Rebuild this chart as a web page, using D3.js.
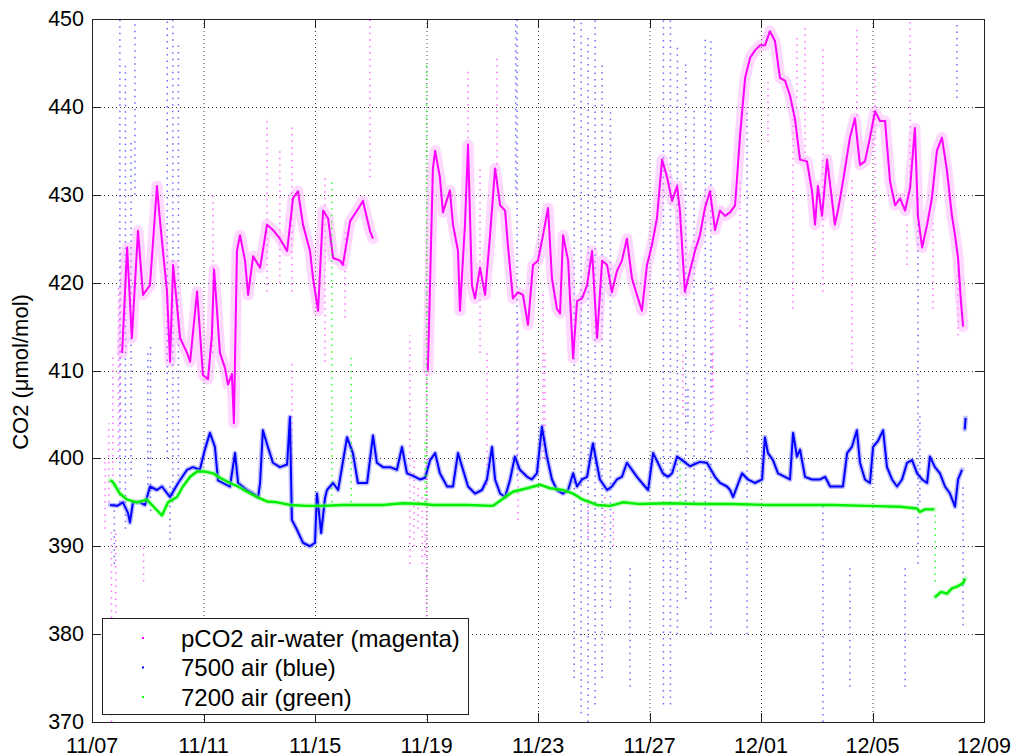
<!DOCTYPE html>
<html>
<head>
<meta charset="utf-8">
<script src="https://cdn.jsdelivr.net/npm/d3@7"></script>
<style>
  html, body { margin: 0; padding: 0; background: #fff; }
  svg { display: block; font-family: "Liberation Sans", Arial, Helvetica, sans-serif; }
</style>
</head>
<body>
<svg id="chart" width="1017" height="756"></svg>
<script>
// Time axis: days elapsed since 11/07 00:00
const xTickDays   = [0, 4, 8, 12, 16, 20, 24, 28, 32];
const xTickLabels = ["11/07", "11/11", "11/15", "11/19", "11/23", "11/27", "12/01", "12/05", "12/09"];
const yTicks      = [370, 380, 390, 400, 410, 420, 430, 440, 450];

// pCO2 air-water trace [day, ppm]; null marks a data gap
const magentaTrace = [
  [1.08,412],[1.26,424],[1.43,413.7],[1.65,425.9],[1.83,418.6],
  [2.08,419.7],[2.33,431],[2.44,427],[2.69,419],[2.80,411],[2.91,422],[3.16,413.7],[3.41,412],
  [3.52,411],[3.77,419],[3.98,409.5],[4.16,409],[4.30,414],[4.38,421.5],[4.59,412],[4.77,410.3],
  [4.88,408.4],[5.02,409.6],[5.09,404],[5.20,423.6],[5.31,425.4],[5.49,422.5],[5.60,418.6],[5.78,423],
  [6.03,421.7],[6.28,426.6],[6.49,426],[6.74,425],[7.00,423.6],[7.21,429.6],[7.39,430.4],[7.57,426.6],
  [7.82,423.6],[7.93,420.5],[8.11,416.8],[8.29,428.2],[8.47,427.3],[8.65,422.8],[8.90,422.5],[9.00,422],
  [9.26,427],[9.51,428.2],[9.72,429.3],[9.97,425.9],[10.08,425],
  [10.5,null],
  [12.05,410],[12.23,433],[12.31,435],[12.48,432],[12.59,428],
  [12.84,430.5],[12.95,426.6],[13.13,423.6],[13.20,416.8],[13.38,426.6],[13.49,435.7],[13.63,419.7],[13.74,418.2],
  [13.92,421.7],[14.10,418.6],[14.28,425.4],[14.46,433],[14.64,428.8],[14.82,428.2],[14.92,424.3],[15.10,418.2],
  [15.28,418.9],[15.46,418.6],[15.64,415.2],[15.82,422],[16.00,422.5],[16.18,425.4],[16.36,428.5],[16.50,420.5],
  [16.68,417],[16.79,416.5],[16.90,425.4],[17.08,422.5],[17.26,411.4],[17.40,417.9],[17.58,418.2],[17.76,419.7],
  [17.94,423.6],[18.12,413.7],[18.30,422.5],[18.48,422],[18.65,418.9],[18.83,421.3],[19.01,422.5],[19.19,425],
  [19.37,420.5],[19.55,418.6],[19.73,416.8],[19.91,422],[20.09,424.3],[20.27,427.4],[20.45,434],[20.63,432],
  [20.81,429.3],[20.99,431],[21.09,428.2],[21.27,419],[21.45,421.3],[21.63,423.6],[21.81,425.4],[21.99,428.5],
  [22.17,430.4],[22.35,426],[22.53,428.2],[22.71,427.6],[22.89,428],[23.07,428.8],[23.25,436.8],[23.43,443.3],
  [23.61,445.6],[23.78,446.4],[23.96,447],[24.14,447],[24.32,448.6],[24.50,447.5],[24.68,443.3],[24.86,443],
  [25.04,441.3],[25.22,438.6],[25.40,434],[25.65,433.8],[25.83,430.4],[25.94,426.6],[26.04,431],[26.19,427.6],
  [26.37,434],[26.55,429.3],[26.65,426.6],[26.76,428.2],[26.94,431.5],[27.19,436.5],[27.37,438.7],[27.55,433.4],
  [27.73,433.8],[27.91,436.5],[28.09,439.5],[28.27,438.4],[28.45,438.4],[28.63,431.5],[28.81,428.8],[28.99,429.6],
  [29.17,428.2],[29.35,430.8],[29.52,437.6],[29.63,427.6],[29.78,424],[29.96,426.6],[30.13,429.6],[30.31,435],
  [30.49,436.5],[30.67,432.8],[30.85,427.6],[30.96,425.4],[31.07,422.8],[31.17,418],[31.25,415]
];

// 7500 open-path analyser, air [day, ppm]
const blueTrace = [
  [0.65,394.7],[0.90,394.6],[1.11,395],[1.29,393.8],[1.36,392.7],[1.47,395],[1.72,395],[1.90,394.7],
  [2.08,396.8],[2.33,396.4],[2.51,396.8],[2.80,395.6],[3.09,397.2],[3.41,398.7],[3.62,399],[3.87,398.7],
  [4.05,401],[4.23,402.9],[4.41,401.3],[4.52,397.5],[4.70,397.2],[4.95,396.8],[5.13,400.6],[5.24,397.2],
  [5.56,396.4],[5.78,396],[5.96,395.6],[6.03,397.2],[6.13,403.2],[6.31,401.3],[6.49,399.5],[6.74,399],
  [7.00,399.3],[7.10,404.7],[7.17,393],[7.35,391.9],[7.57,390.4],[7.82,390],[8.00,390.4],[8.07,396],
  [8.22,391.5],[8.36,395.5],[8.43,396.4],[8.65,397.2],[8.83,396.4],[9.15,402.4],[9.36,400.6],[9.54,397.2],
  [9.87,397.2],[10.08,402.6],[10.22,399.5],[10.44,399],[10.69,399],[10.94,398.7],[11.12,401.3],[11.30,398.3],
  [11.52,398],[11.77,397.6],[11.95,397.8],[12.13,399.8],[12.31,400.6],[12.48,398.3],[12.74,396.8],[12.95,396.8],
  [13.13,400.6],[13.31,398.7],[13.49,396.8],[13.74,396],[13.99,396.4],[14.17,397.6],[14.35,401.3],[14.46,397.6],
  [14.64,396],[14.82,395.6],[15.00,397.6],[15.17,400.2],[15.35,398.7],[15.61,397.9],[15.78,397.6],[15.96,398.3],
  [16.14,403.6],[16.32,400.2],[16.50,397.6],[16.68,396.4],[16.90,396],[17.08,396.4],[17.26,398.3],[17.40,396.8],
  [17.58,397.6],[17.76,397.9],[17.97,401.7],[18.22,397.6],[18.48,396.4],[18.65,396.8],[18.83,397.6],[19.01,397.9],
  [19.19,399.5],[19.37,398.7],[19.55,397.9],[19.73,397.2],[19.95,396.4],[20.13,400.6],[20.30,399.5],[20.48,398.3],
  [20.66,397.9],[20.81,398.3],[20.99,400.2],[21.17,399.8],[21.45,399.1],[21.81,399.6],[22.06,399.5],[22.35,397.9],
  [22.53,397.2],[22.78,396.8],[22.89,396.4],[23.00,395.6],[23.14,396.8],[23.32,398.3],[23.53,397.6],[23.78,397.2],
  [24.04,397.6],[24.14,402.4],[24.25,400.6],[24.43,399.8],[24.61,398.3],[24.86,397.9],[25.04,397.6],[25.15,402.9],
  [25.29,400.2],[25.40,401],[25.58,397.9],[25.83,397.6],[26.12,397.6],[26.30,397.9],[26.48,396.8],[26.73,396.8],
  [26.94,396.8],[27.09,400.6],[27.26,401.3],[27.44,403.2],[27.55,399.5],[27.73,397.6],[27.91,397.2],[28.02,401.3],
  [28.20,402],[28.38,403.2],[28.52,399],[28.70,397.6],[28.88,396.8],[29.06,397.6],[29.24,399.5],[29.42,399.8],
  [29.60,398.3],[29.78,397.6],[29.96,397.2],[30.06,400.2],[30.24,399],[30.42,398.3],[30.60,396.8],[30.78,396],
  [30.96,394.5],[31.07,397.6],[31.21,398.7],
  [31.27,null],
  [31.31,403.3],[31.34,404.6]
];

// 7200 closed-path analyser, air [day, ppm]
const greenTrace = [
  [0.65,397.5],[0.75,397.3],[1.00,396],[1.26,395.3],[1.61,395],[1.97,395.3],[2.33,394.1],[2.51,393.5],
  [2.73,395],[3.05,395.6],[3.26,396.8],[3.52,397.9],[3.77,398.5],[4.05,398.5],[4.34,398.3],[4.59,397.8],
  [4.95,397.2],[5.24,396.8],[5.56,396.2],[5.92,395.6],[6.28,395.1],[6.64,395],[7.10,394.7],[7.71,394.6],
  [8.29,394.6],[9.00,394.7],[9.72,394.7],[10.44,394.7],[11.16,394.9],[11.87,394.8],[12.23,394.7],[13.45,394.7],
  [14.39,394.6],[14.74,395.4],[15.10,396.2],[15.61,396.6],[16.07,397],[16.43,396.6],[16.90,396.4],[17.26,396],
  [17.61,395.3],[18.12,394.7],[18.58,394.6],[19.05,395],[19.66,394.8],[20.63,394.9],[21.81,394.8],[23.00,394.8],
  [24.18,394.7],[25.40,394.7],[26.58,394.7],[27.77,394.6],[28.99,394.5],[29.60,394.3],[29.70,393.9],[29.88,394.2],
  [30.21,394.2],
  [30.23,null],
  [30.24,384.2],[30.46,384.8],[30.67,384.6],[30.85,385.2],[31.03,385.4],[31.25,385.8],[31.32,386.3]
];

// Sparse outlier streaks [day, low ppm, high ppm]
const magentaSpikes = [
  [0.47,392,400],[0.60,395,404],[0.70,370,392],[0.75,398,412],[0.85,375,392],[0.95,400,420],[1.02,404,424],
  [1.85,386,390],[4.34,412,430],[6.28,419,439],[6.74,420,435],[7.17,419,438],
  [7.17,398,411],[8.36,411,432],[9.08,416,426],[9.97,432,450],[11.40,388,414],[11.55,390,400],[11.70,392,397],
  [11.85,388,396],[11.95,389,392],[12.00,382,410],[13.49,432,444],[13.92,412,433],[14.17,397,412],[14.53,432,446],
  [15.28,393,416],[16.18,400,419],
  [16.25,400,412],[17.80,391,395],[18.40,391,396],[18.70,390,394],[21.20,405,412],[22.25,408,412],[22.28,403,420],
  [23.25,415,432],[24.25,436,443],[25.15,417,439],[25.29,441,448],[25.58,434,449],[26.22,419,447],[27.26,410,432],
  [27.44,439,449],[28.09,423,445],[29.24,422,427],[29.35,431,450],[30.17,417,427],[31.07,414,423]
];
const blueSpikes = [
  [0.80,388,395],[1.00,395,450],[1.20,392,445],[1.40,398,436],[1.54,430,450],[2.00,397,412],[2.10,394,413],
  [2.70,400,450],[2.90,395,450],[3.10,398,447],[2.80,390,397],[15.20,430,450],[15.25,398,450],
  [17.30,375,450],[17.55,371,450],[17.80,370,448],[18.05,372,450],[18.30,375,445],[18.60,383,440],[19.30,374,388],
  [20.50,372,450],[20.75,372,450],[21.00,380,447],[21.30,384,445],[21.38,404,408],[21.60,395,440],[22.00,392,448],
  [22.20,380,448],[23.50,380,440],[26.22,370,395],[27.19,374,388],[29.17,374,388],[29.63,388,430],[29.70,395,405],
  [31.03,441,450],[31.25,381,397]
];
const greenSpikes = [
  [8.60,395,432],[9.30,395,412],[11.95,395,402],[12.00,395,445],[21.10,395,400],[30.25,386,394]
];

const legendLabels = ["pCO2 air-water (magenta)", "7500 air (blue)", "7200 air (green)"];
const seriesColors = ["#ff00ff", "#0000ff", "#00ff00"];

const svg = d3.select("#chart");
const margin = { left: 92, right: 984, top: 19, bottom: 722 };
const base = new Date(2011, 10, 7);
const toDate = dd => new Date(base.getTime() + dd * 86400000);

const x = d3.scaleTime().domain([toDate(0), toDate(32)]).range([margin.left, margin.right]);
const y = d3.scaleLinear().domain([370, 450]).range([margin.bottom, margin.top]);

svg.append("defs").append("clipPath").attr("id", "plotClip")
  .append("rect").attr("x", margin.left).attr("y", margin.top)
  .attr("width", margin.right - margin.left).attr("height", margin.bottom - margin.top);

// dotted grid
const grid = svg.append("g").attr("stroke", "#000").attr("stroke-dasharray", "1,3").attr("stroke-width", 1).attr("opacity", 0.75);
xTickDays.slice(1, -1).forEach(dd => {
  grid.append("line").attr("x1", x(toDate(dd)) + 0.5).attr("x2", x(toDate(dd)) + 0.5)
    .attr("y1", margin.top).attr("y2", margin.bottom);
});
yTicks.slice(1, -1).forEach(v => {
  grid.append("line").attr("y1", Math.round(y(v)) + 0.5).attr("y2", Math.round(y(v)) + 0.5)
    .attr("x1", margin.left).attr("x2", margin.right);
});

const plot = svg.append("g").attr("clip-path", "url(#plotClip)");

function drawSpikes(data, color, opacity) {
  plot.append("g").selectAll("line").data(data).join("line")
    .attr("x1", d => x(toDate(d[0]))).attr("x2", d => x(toDate(d[0])))
    .attr("y1", d => y(d[1])).attr("y2", d => y(d[2]))
    .attr("stroke", color).attr("stroke-width", 1.5)
    .attr("stroke-dasharray", "1.5,5").attr("opacity", opacity);
}
drawSpikes(magentaSpikes, "#ff40ff", 0.75);
drawSpikes(blueSpikes, "#3030ff", 0.7);

const line = d3.line()
  .defined(d => d[1] !== null)
  .x(d => x(toDate(d[0])))
  .y(d => y(d[1]));

function drawTrace(data, halo, haloW, haloOp, core, coreW) {
  plot.append("path").datum(data).attr("d", line)
    .attr("fill", "none").attr("stroke", halo).attr("stroke-width", haloW)
    .attr("stroke-linejoin", "round").attr("stroke-linecap", "round").attr("opacity", haloOp);
  plot.append("path").datum(data).attr("d", line)
    .attr("fill", "none").attr("stroke", core).attr("stroke-width", coreW)
    .attr("stroke-linejoin", "round");
}
drawTrace(magentaTrace, "#ff90ff", 11, 0.35, "#ff00ff", 2);
drawTrace(blueTrace, "#7070ff", 5, 0.45, "#0000ff", 2);
drawSpikes(greenSpikes, "#00ff00", 0.8);
drawTrace(greenTrace, "#80ff80", 5, 0.45, "#00ee00", 2.4);

// axes box with inward ticks on all four sides
const axes = svg.append("g").attr("stroke", "#222").attr("stroke-width", 1);
axes.append("rect").attr("x", margin.left + 0.5).attr("y", margin.top + 0.5)
  .attr("width", margin.right - margin.left).attr("height", margin.bottom - margin.top)
  .attr("fill", "none");
const tl = 9;
xTickDays.forEach(dd => {
  const px = Math.round(x(toDate(dd))) + 0.5;
  axes.append("line").attr("x1", px).attr("x2", px).attr("y1", margin.bottom).attr("y2", margin.bottom - tl);
  axes.append("line").attr("x1", px).attr("x2", px).attr("y1", margin.top).attr("y2", margin.top + tl);
});
yTicks.forEach(v => {
  const py = Math.round(y(v)) + 0.5;
  axes.append("line").attr("x1", margin.left).attr("x2", margin.left + tl).attr("y1", py).attr("y2", py);
  axes.append("line").attr("x1", margin.right).attr("x2", margin.right - tl).attr("y1", py).attr("y2", py);
});

// tick labels
svg.append("g").selectAll("text").data(xTickDays).join("text")
  .attr("x", dd => x(toDate(dd))).attr("y", 752.5)
  .attr("text-anchor", "middle").attr("font-size", 21.5).attr("fill", "#000")
  .text((dd, i) => xTickLabels[i]);
svg.append("g").selectAll("text").data(yTicks).join("text")
  .attr("x", 84).attr("y", v => y(v) + 7)
  .attr("text-anchor", "end").attr("font-size", 21.5).attr("fill", "#000")
  .text(v => v);

svg.append("text")
  .attr("transform", "translate(28,372) rotate(-90)")
  .attr("text-anchor", "middle").attr("font-size", 22).attr("fill", "#000")
  .text("CO2 (\u03bcmol/mol)");

// legend
const lg = svg.append("g");
lg.append("rect").attr("x", 102.5).attr("y", 618.5).attr("width", 366).attr("height", 96)
  .attr("fill", "#fff").attr("stroke", "#222").attr("stroke-width", 1);
legendLabels.forEach((t, i) => {
  const cy = 638 + i * 29.5;
  lg.append("rect").attr("x", 142).attr("y", cy - 1).attr("width", 2).attr("height", 2).attr("fill", seriesColors[i]);
  lg.append("text").attr("x", 181).attr("y", cy + 8.5).attr("font-size", 24).attr("fill", "#000").text(t);
});
</script>
</body>
</html>
